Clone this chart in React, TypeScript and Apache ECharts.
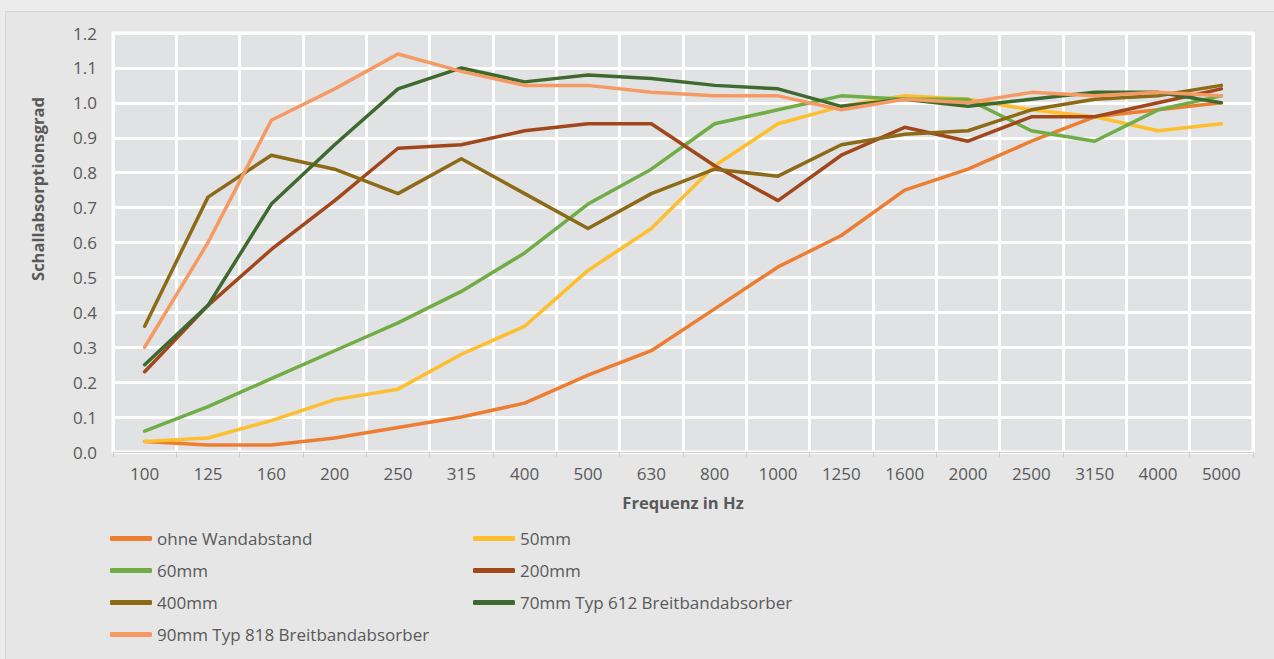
import React, { useEffect, useRef } from "react";
import * as echarts from "echarts";

const categories = ["100", "125", "160", "200", "250", "315", "400", "500", "630", "800", "1000", "1250", "1600", "2000", "2500", "3150", "4000", "5000"];

const seriesNames = [
  "ohne Wandabstand",
  "50mm",
  "60mm",
  "200mm",
  "400mm",
  "70mm Typ 612 Breitbandabsorber",
  "90mm Typ 818 Breitbandabsorber",
];

const ohneWandabstand = [0.03, 0.02, 0.02, 0.04, 0.07, 0.10, 0.14, 0.22, 0.29, 0.41, 0.53, 0.62, 0.75, 0.81, 0.89, 0.96, 0.98, 1.00];
const mm50 = [0.03, 0.04, 0.09, 0.15, 0.18, 0.28, 0.36, 0.52, 0.64, 0.82, 0.94, 0.99, 1.02, 1.01, 0.98, 0.96, 0.92, 0.94];
const mm60 = [0.06, 0.13, 0.21, 0.29, 0.37, 0.46, 0.57, 0.71, 0.81, 0.94, 0.98, 1.02, 1.01, 1.01, 0.92, 0.89, 0.98, 1.02];
const mm200 = [0.23, 0.42, 0.58, 0.72, 0.87, 0.88, 0.92, 0.94, 0.94, 0.82, 0.72, 0.85, 0.93, 0.89, 0.96, 0.96, 1.00, 1.04];
const mm400 = [0.36, 0.73, 0.85, 0.81, 0.74, 0.84, 0.74, 0.64, 0.74, 0.81, 0.79, 0.88, 0.91, 0.92, 0.98, 1.01, 1.02, 1.05];
const typ612 = [0.25, 0.42, 0.71, 0.88, 1.04, 1.10, 1.06, 1.08, 1.07, 1.05, 1.04, 0.99, 1.01, 0.99, 1.01, 1.03, 1.03, 1.00];
const typ818 = [0.30, 0.60, 0.95, 1.04, 1.14, 1.09, 1.05, 1.05, 1.03, 1.02, 1.02, 0.98, 1.01, 1.00, 1.03, 1.02, 1.03, 1.02];

const seriesData = [ohneWandabstand, mm50, mm60, mm200, mm400, typ612, typ818];
const colors = ["#ED7D31", "#FDBF2D", "#70AD47", "#A0471B", "#8C6A17", "#3F6A2F", "#F59A63"];

const FONT = "'Open Sans', 'Noto Sans', sans-serif";
const TEXT = "#595959";

export default function App() {
  const ref = useRef<HTMLDivElement>(null);

  useEffect(() => {
    if (!ref.current) return;
    const chart = echarts.init(ref.current, undefined, { renderer: "svg" });
    const legendText = { color: TEXT, fontSize: 17, fontFamily: FONT };
    chart.setOption({
      animation: false,
      backgroundColor: "#ececec",
      color: colors,
      textStyle: { fontFamily: FONT },
      graphic: [
        {
          type: "rect",
          z: -10,
          silent: true,
          shape: { x: 5.5, y: 11.5, width: 1290, height: 700 },
          style: { fill: "#e6e6e6", stroke: "#d4d4d4", lineWidth: 1 },
        },
        {
          type: "text",
          x: 37,
          y: 189,
          rotation: Math.PI / 2,
          style: {
            text: "Schallabsorptionsgrad",
            fill: TEXT,
            font: `bold 16.5px ${FONT}`,
            align: "center",
            verticalAlign: "middle",
          },
        },
      ],
      grid: {
        left: 113,
        right: 21,
        top: 33,
        bottom: 207,
        show: true,
        backgroundColor: "#e1e2e3",
        borderColor: "#ffffff",
        borderWidth: 3,
      },
      legend: [
        {
          orient: "vertical",
          left: 110,
          top: 527,
          itemWidth: 42,
          itemHeight: 5,
          itemGap: 9,
          icon: "roundRect",
          data: [seriesNames[0], seriesNames[2], seriesNames[4], seriesNames[6]],
          textStyle: { ...legendText, lineHeight: 23 },
          padding: 0,
        },
        {
          orient: "vertical",
          left: 473,
          top: 527,
          itemWidth: 42,
          itemHeight: 5,
          itemGap: 9,
          icon: "roundRect",
          data: [seriesNames[1], seriesNames[3], seriesNames[5]],
          textStyle: { ...legendText, lineHeight: 23 },
          padding: 0,
        },
      ],
      xAxis: {
        type: "category",
        data: categories,
        boundaryGap: true,
        name: "Frequenz in Hz",
        nameLocation: "middle",
        nameGap: 42,
        nameTextStyle: { color: TEXT, fontSize: 16.5, fontWeight: "bold", fontFamily: FONT },
        axisLine: { show: true, lineStyle: { color: "#cdcdcd", width: 1 } },
        axisTick: { show: true, length: 5, lineStyle: { color: "#cdcdcd" } },
        axisLabel: { color: TEXT, fontSize: 17, margin: 13, fontFamily: FONT },
        splitLine: { show: true, lineStyle: { color: "#ffffff", width: 3 } },
      },
      yAxis: {
        type: "value",
        min: 0,
        max: 1.2,
        interval: 0.1,
        axisLine: { show: false },
        axisTick: { show: false },
        axisLabel: {
          color: TEXT,
          fontSize: 17,
          margin: 16,
          fontFamily: FONT,
          formatter: (v: number) => v.toFixed(1),
        },
        splitLine: { show: true, lineStyle: { color: "#ffffff", width: 3 } },
      },
      series: seriesNames.map((name, i) => ({
        name,
        type: "line",
        data: seriesData[i],
        symbol: "none",
        lineStyle: { width: 3.5, color: colors[i], cap: "round", join: "round" },
        itemStyle: { color: colors[i] },
        z: 2 + i,
      })),
    });
    return () => chart.dispose();
  }, []);

  return (
    <div
      ref={ref}
      style={{ position: "fixed", left: 0, top: 0, width: 1274, height: 659 }}
    />
  );
}
